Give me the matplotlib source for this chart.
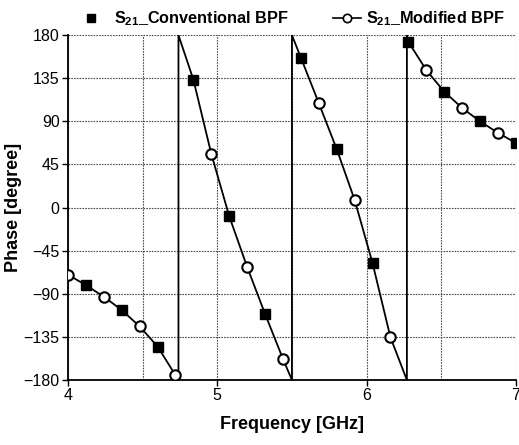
import matplotlib
matplotlib.use("Agg")
import matplotlib.pyplot as plt
from matplotlib.ticker import MultipleLocator

plt.rcParams['font.family'] = ['Liberation Sans', 'DejaVu Sans']
plt.rcParams['mathtext.fontset'] = 'custom'
plt.rcParams['mathtext.rm'] = 'Liberation Sans'
plt.rcParams['mathtext.bf'] = 'Liberation Sans:bold'

# S21 conventional BPF (filled squares)
conv_freq = [4.12, 4.36, 4.60, 4.84, 5.08, 5.32, 5.56, 5.80, 6.04, 6.28, 6.52, 6.76, 7.00]
conv_phase = [-81, -107, -145, 133.5, -9, -111, 156.5, 61, -58, 173, 121, 90, 67.5]

# S21 modified BPF (open circles)
mod_freq = [4.00, 4.24, 4.48, 4.72, 4.96, 5.20, 5.44, 5.68, 5.92, 6.16, 6.40, 6.64, 6.88]
mod_phase = [-70, -93, -124, -175, 56, -62, -158, 109, 8, -135.5, 143.5, 104, 78]

# phase-wrap frequencies (curve jumps from -180 to 180)
wrap_freq = [4.74, 5.50, 6.27]

# build the response curve: all samples, with the wrap jumps inserted
pts = sorted(zip(conv_freq + mod_freq, conv_phase + mod_phase))
curve_f, curve_p = [], []
wi = 0
for f, p in pts:
    while wi < len(wrap_freq) and wrap_freq[wi] < f:
        curve_f += [wrap_freq[wi], wrap_freq[wi]]
        curve_p += [-180, 180]
        wi += 1
    curve_f.append(f)
    curve_p.append(p)

fig = plt.figure(figsize=(5.19, 4.45), dpi=100)
ax = fig.add_axes([0.131, 0.146, 0.863, 0.775])

ax.plot(curve_f, curve_p, color='black', lw=1.3, zorder=3)
ax.plot(conv_freq, conv_phase, ls='none', marker='s', ms=7.5, mfc='black', mec='black', zorder=4)
ax.plot(mod_freq, mod_phase, ls='none', marker='o', ms=7.5, mfc='white', mec='black', mew=1.5, zorder=4)

ax.set_xlim(4, 7)
ax.set_ylim(-180, 180)
ax.xaxis.set_major_locator(MultipleLocator(1))
ax.xaxis.set_minor_locator(MultipleLocator(0.5))
ax.yaxis.set_major_locator(MultipleLocator(45))
ax.grid(True, which='both', color='0.3', ls=(0, (1.5, 1)), lw=0.8)
ax.tick_params(which='minor', length=0)
ax.tick_params(which='major', direction='out', length=4, width=1, labelsize=11.5, pad=2)
ax.get_ygridlines()[-1].set_visible(False)
ax.spines['top'].set_visible(False)
ax.spines['right'].set_visible(False)
ax.spines['left'].set_linewidth(1.3)
ax.spines['bottom'].set_linewidth(1.3)

ax.set_xlabel('Frequency [GHz]', fontsize=13, fontweight='bold', labelpad=9)
ax.set_ylabel('Phase [degree]', fontsize=13, fontweight='bold', labelpad=1)

h1, = ax.plot([], [], ls='none', marker='s', ms=6, mfc='black', mec='black')
h2, = ax.plot([], [], color='black', lw=1.2, marker='o', ms=6, mfc='white', mec='black', mew=1.2)
leg_font = {'weight': 'bold', 'size': 11.7}
fig.legend([h1], [r'S$_{\mathregular{21}}$_Conventional BPF'],
           loc='center left', bbox_to_anchor=(80 / 519, 1 - 19 / 445), frameon=False,
           prop=leg_font, handlelength=1.4, handletextpad=0.7,
           borderpad=0, borderaxespad=0)
fig.legend([h2], [r'S$_{\mathregular{21}}$_Modified BPF'],
           loc='center left', bbox_to_anchor=(333 / 519, 1 - 19 / 445), frameon=False,
           prop=leg_font, handlelength=1.7, handletextpad=0.3,
           borderpad=0, borderaxespad=0)

fig.savefig('out.png', dpi=100)
